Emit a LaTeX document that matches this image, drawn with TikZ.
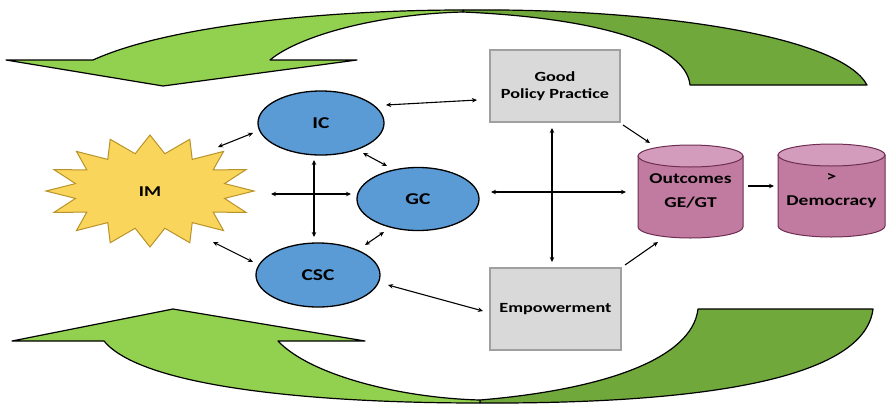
\documentclass[tikz,border=0pt]{standalone}
\usepackage{fontspec}
\setmainfont{Carlito}[FakeStretch=1.3]
\usetikzlibrary{arrows.meta,shapes.geometric}
\definecolor{lgreen}{HTML}{92D050}
\definecolor{dgreen}{HTML}{70A83C}
\definecolor{cblue}{HTML}{5B9BD5}
\definecolor{syellow}{HTML}{FAD55C}
\definecolor{sborder}{HTML}{B8932A}
\definecolor{gbox}{HTML}{D9D9D9}
\definecolor{gborder}{HTML}{A0A0A0}
\definecolor{cylbody}{HTML}{C27BA0}
\definecolor{cyltop}{HTML}{D49CBC}
\definecolor{cylborder}{HTML}{6E2D52}
\begin{document}
\begin{tikzpicture}[x=1pt,y=-1pt,
  lbl/.style={font=\fontsize{15}{18}\selectfont\bfseries, text=black, inner sep=0pt},
  band/.style={draw=black, line width=1.2pt, line join=round},
  blueell/.style={ellipse, draw=black, line width=1.3pt, fill=cblue, inner sep=0pt,
    font=\fontsize{16.5}{18}\selectfont\bfseries},
  graybox/.style={rectangle, draw=gborder, line width=1.6pt, fill=gbox, inner sep=0pt,
    align=center, font=\fontsize{14}{17}\selectfont\bfseries},
  cyltext/.style={inner sep=0pt, align=center, font=\fontsize{15}{24}\selectfont\bfseries},
  cylstyle/.style={draw=cylborder, line width=1pt, fill=cylbody},
  tip/.tip={Stealth[length=5pt,width=4.5pt]},
  biarrow/.style={tip-tip, line width=1.1pt},
  onearrow/.style={-tip, line width=1.1pt}]
\useasboundingbox (0,0) rectangle (886,405);

% ---- top curved arrow ----
\filldraw[fill=dgreen, band] (463,10) .. controls (650,8) and (840,35) .. (867,85)
  -- (690,85) .. controls (686,45) and (600,18) .. (463,12) -- cycle;
\filldraw[fill=lgreen, band] (6,60) -- (93,60) .. controls (170,25) and (330,10) .. (463,10)
  -- (463,12) .. controls (380,14) and (300,35) .. (270,60) -- (357,60) -- (163,86) -- cycle;

% ---- bottom curved arrow ----
\filldraw[fill=dgreen, band] (480,403) .. controls (720,404) and (865,375) .. (873,309)
  -- (698,309) .. controls (692,360) and (600,390) .. (480,400) -- cycle;
\filldraw[fill=lgreen, band] (12,341) -- (104,341) .. controls (140,385) and (300,403) .. (480,403)
  -- (480,400) .. controls (400,398) and (310,375) .. (278,341) -- (365,341) -- (173,309) -- cycle;

% ---- IM star ----
\begin{scope}[shift={(150,191)}]
  \filldraw[fill=syellow, draw=sborder, line width=1pt, line join=miter]
    (104,0)
    \foreach \i [evaluate=\i as \rx using {mod(\i,2)==0?104:76},
                 evaluate=\i as \ry using {mod(\i,2)==0?56:38}] in {1,...,31}
      { -- ({\rx*cos(\i*11.25)},{\ry*sin(\i*11.25)}) } -- cycle;
\end{scope}
\node[lbl] (IM) at (150,192) {IM};

% ---- blue ellipses ----
\node[blueell, minimum width=126pt, minimum height=64pt] (IC) at (321,123) {IC};
\node[blueell, minimum width=122pt, minimum height=63pt] (GC) at (418,199) {GC};
\node[blueell, minimum width=124pt, minimum height=64pt] (CSC) at (318,275) {CSC};

% ---- gray boxes ----
\node[graybox, minimum width=130pt, minimum height=72pt] (GPP) at (555,86) {Good\\Policy Practice};
\node[graybox, minimum width=131pt, minimum height=82pt] (EMP) at (555.5,309) {Empowerment};

% ---- cylinders ----
\filldraw[cylstyle] (638,156) -- (638,227) arc[start angle=180, end angle=0, x radius=52.5, y radius=11]
  -- (743,156) -- cycle;
\filldraw[cylstyle, fill=cyltop] (690.5,156) ellipse [x radius=52.5, y radius=11];
\node[cyltext] (OUT) at (690.5,191) {Outcomes\\GE/GT};

\filldraw[cylstyle] (778,155) -- (778,226) arc[start angle=180, end angle=0, x radius=53.5, y radius=11]
  -- (885,155) -- cycle;
\filldraw[cylstyle, fill=cyltop] (831.5,155) ellipse [x radius=53.5, y radius=11];
\node[cyltext] (DEM) at (831.5,190.5) {>\\Democracy};

% ---- connector end points ----
\coordinate (imA) at (218,147);  \coordinate (icA) at (253,133);
\coordinate (imB) at (271,194);  \coordinate (gcB) at (351,194);
\coordinate (icC) at (314,160);  \coordinate (cscC) at (314,237);
\coordinate (imD) at (213,242);  \coordinate (cscD) at (253,262);
\coordinate (icE) at (363,153);  \coordinate (gcE) at (387,166);
\coordinate (gcF) at (384,232);  \coordinate (cscF) at (365,245);
\coordinate (icG) at (386,105);  \coordinate (gppG) at (477,100);
\coordinate (cscH) at (388,285); \coordinate (empH) at (483,311);
\coordinate (gcI) at (491,192);  \coordinate (outI) at (626,192);
\coordinate (gppJ) at (552,128); \coordinate (empJ) at (552,262);
\coordinate (gppK) at (623,125); \coordinate (outK) at (650,143);
\coordinate (empL) at (625,265); \coordinate (outL) at (658,242);
\coordinate (outM) at (748,186); \coordinate (demM) at (774,186);

\draw[biarrow] (imA) -- (icA);
\draw[biarrow] (imB) -- (gcB);
\draw[biarrow] (icC) -- (cscC);
\draw[biarrow] (imD) -- (cscD);
\draw[biarrow] (icE) -- (gcE);
\draw[biarrow] (gcF) -- (cscF);
\draw[biarrow] (icG) -- (gppG);
\draw[biarrow] (cscH) -- (empH);
\draw[biarrow] (gcI) -- (outI);
\draw[biarrow] (gppJ) -- (empJ);
\draw[onearrow] (gppK) -- (outK);
\draw[onearrow] (empL) -- (outL);
\draw[onearrow] (outM) -- (demM);
\end{tikzpicture}
\end{document}
